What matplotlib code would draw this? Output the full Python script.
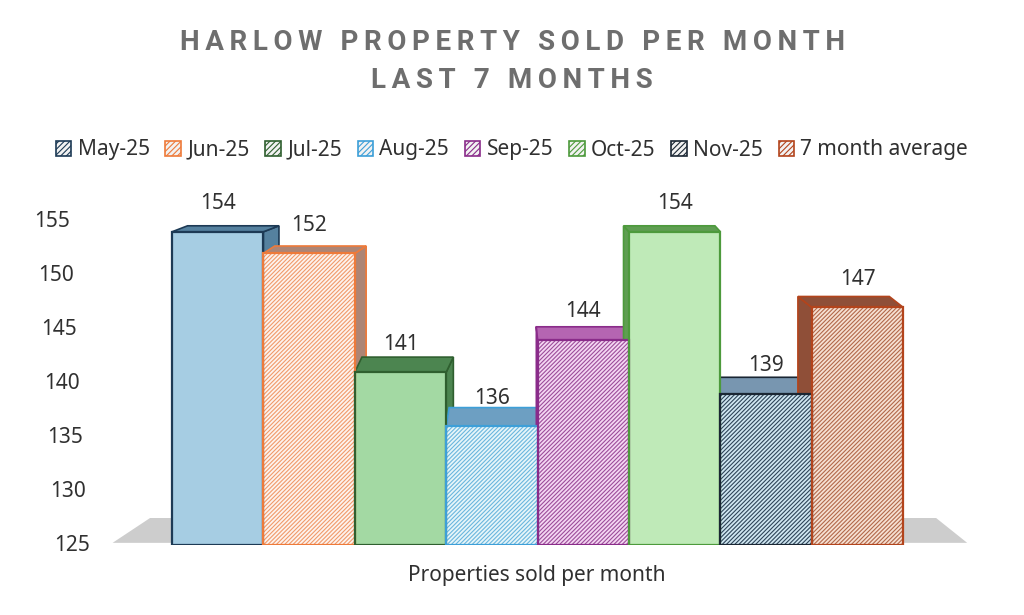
import matplotlib
matplotlib.use("Agg")
import matplotlib.pyplot as plt
import matplotlib.transforms as mtransforms
from matplotlib.patches import Polygon, Patch

months = ["May-25", "Jun-25", "Jul-25", "Aug-25", "Sep-25", "Oct-25", "Nov-25", "7 month average"]
sold = [154, 152, 141, 136, 144, 154, 139, 147]
y_ticks = [125, 130, 135, 140, 145, 150, 155]

# face fill, outline, hatch line colour (None = solid), side/top shade
face_colors = ["#a6cde3", "#fdf3ee", "#a3d9a3", "#e6f5f9", "#f4d6f2", "#bfeab8", "#cfe6f1", "#f6e0d2"]
edge_colors = ["#1d3a55", "#ee7a3a", "#2f5f2f", "#3d9fd8", "#8a2c8a", "#4d9a3c", "#1a2633", "#b3441c"]
hatch_colors = [None, "#f19a6a", None, "#6ab6de", "#9c4d9a", None, "#2e4458", "#b2684a"]
shade_colors = ["#55819f", "#ad8575", "#4c8550", "#6d9fc2", "#b565b2", "#5f9e52", "#7896b0", "#8f4f38"]

plt.rcParams["font.family"] = ["Noto Sans", "DejaVu Sans"]
plt.rcParams["hatch.linewidth"] = 0.8

fig = plt.figure(figsize=(10.24, 6.15), dpi=100)
ax = fig.add_axes([100 / 1024, 70 / 615, 870 / 1024, 355 / 615])
px_per_unit = 10.8
ax.set_ylim(125, 125 + 355 / px_per_unit)
x0_px, step_px = 217.7, 91.4
ax.set_xlim((100 - x0_px) / step_px, (970 - x0_px) / step_px)
for s in ax.spines.values():
    s.set_visible(False)
ax.set_xticks([])
ax.set_yticks([])

# grey floor
floor = Polygon([(-1.15, 125.2), (8.2, 125.2), (7.86, 127.5), (-0.74, 127.5)],
                closed=True, facecolor="#cdcdcd", edgecolor="none", zorder=0)
ax.add_patch(floor)

width = 1.0
n = len(sold)
# back faces (sides and tops) first
for i, v in enumerate(sold):
    xl, xr = i - width / 2, i + width / 2
    dx = 0.046 * (3.7 - i)
    dy = (6 + (154 - v) * 0.7) / px_per_unit
    if dx >= 0:
        side = [(xr, 125), (xr, v), (xr + dx, v + dy), (xr + dx, 125)]
    else:
        side = [(xl, 125), (xl, v), (xl + dx, v + dy), (xl + dx, 125)]
    ax.add_patch(Polygon(side, closed=True, facecolor=shade_colors[i],
                         edgecolor=edge_colors[i], lw=1.2, zorder=1))
    top = [(xl, v), (xr, v), (xr + dx, v + dy), (xl + dx, v + dy)]
    ax.add_patch(Polygon(top, closed=True, facecolor=shade_colors[i],
                         edgecolor=edge_colors[i], lw=1.2, zorder=1))

# front faces
xs = list(range(n))
heights = [v - 125 for v in sold]
ax.bar(xs, heights, width, bottom=125, color=face_colors, edgecolor="none", zorder=2)
for i in range(n):
    if hatch_colors[i]:
        ax.bar(i, heights[i], width, bottom=125, facecolor="none",
               edgecolor=hatch_colors[i], hatch="////////", lw=0, zorder=3)
ax.bar(xs, heights, width, bottom=125, facecolor="none", edgecolor=edge_colors,
       lw=1.6, zorder=4)

for i, v in enumerate(sold):
    ax.text(i, v + 2.6, str(v), ha="center", va="center", fontsize=15,
            color="#303030", zorder=5, clip_on=False)

# y tick labels, drifting right toward the floor like the perspective view
for t in y_ticks:
    shift = (155 - t) / 5 * 2.3 / 72
    tr = mtransforms.blended_transform_factory(ax.transAxes, ax.transData) + \
        mtransforms.ScaledTranslation(shift, 0, fig.dpi_scale_trans)
    ax.text(-0.034, t, str(t), transform=tr, ha="right", va="center",
            fontsize=15, color="#303030", clip_on=False)

title_font = dict(fontsize=20, fontweight="bold", color="#6e6e6e",
                  family=["Roboto", "DejaVu Sans"], ha="center", va="center")
fig.text(0.5, 1 - 43 / 615, "\u2009".join("HARLOW PROPERTY SOLD PER MONTH"), **title_font)
fig.text(0.5, 1 - 81 / 615, "\u2009".join("LAST 7 MONTHS"), **title_font)

handles = [Patch(facecolor="#f2f2f2", edgecolor=edge_colors[i], hatch="//////", lw=1.2)
           for i in range(n)]
fig.legend(handles, months, loc="center", bbox_to_anchor=(0.5, 1 - 150 / 615), ncol=8,
           frameon=False, fontsize=15, handlelength=0.75, handleheight=0.75,
           handletextpad=0.3, columnspacing=0.75, labelcolor="#303030")

fig.text(537 / 1024, 1 - 575 / 615, "Properties sold per month", ha="center", va="center",
         fontsize=15, color="#303030")

fig.savefig("out.png", dpi=100, facecolor="white")
